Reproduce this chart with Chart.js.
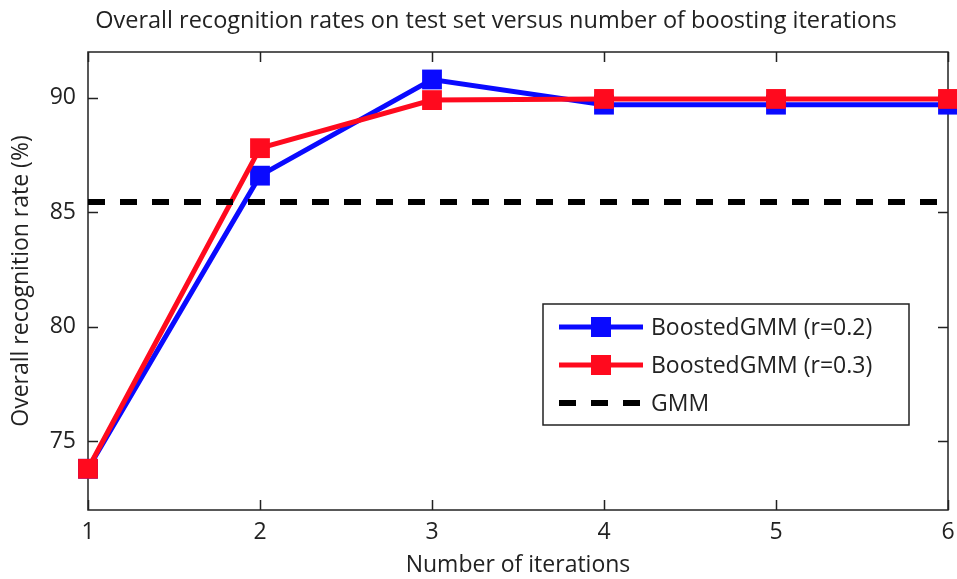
<!DOCTYPE html>
<html>
<head>
<meta charset="utf-8">
<script src="https://cdn.jsdelivr.net/npm/chart.js@4"></script>
<style>
  html, body { margin: 0; padding: 0; background: #fff; }
  #wrap { width: 957px; height: 579px; }
</style>
</head>
<body>
<div id="wrap"><canvas id="chart" width="957" height="579"></canvas></div>
<script>
// Recognition rate vs boosting iterations
var iterations = [1, 2, 3, 4, 5, 6];
var rateR02 = [73.8, 86.6, 90.8, 89.7, 89.7, 89.7];
var rateR03 = [73.8, 87.8, 89.9, 89.95, 89.95, 89.95];
var gmmRate = 85.45;
var xTicks = [1, 2, 3, 4, 5, 6];
var yTicks = [75, 80, 85, 90];
var titleText = 'Overall recognition rates on test set versus number of boosting iterations';

var FONT = '"Open Sans", "DejaVu Sans", sans-serif';
var FS = 23;
var TEXT = '#222';

function pts(xs, ys) {
  return xs.map(function (x, i) { return { x: x, y: ys[i] }; });
}

// matlab style frame with inward ticks on all sides
var framePlugin = {
  id: 'frame',
  beforeDatasetsDraw: function (chart) {
    var a = chart.chartArea, ctx = chart.ctx;
    var sx = chart.scales.x, sy = chart.scales.y;
    ctx.save();
    ctx.strokeStyle = '#222';
    ctx.lineWidth = 1.5;
    ctx.strokeRect(a.left, a.top, a.right - a.left, a.bottom - a.top);
    ctx.beginPath();
    xTicks.forEach(function (v) {
      var px = Math.round(sx.getPixelForValue(v)) + 0.5;
      ctx.moveTo(px, a.bottom); ctx.lineTo(px, a.bottom - 10);
      ctx.moveTo(px, a.top); ctx.lineTo(px, a.top + 10);
    });
    yTicks.forEach(function (v) {
      var py = Math.round(sy.getPixelForValue(v)) + 0.5;
      ctx.moveTo(a.left, py); ctx.lineTo(a.left + 10, py);
      ctx.moveTo(a.right, py); ctx.lineTo(a.right - 10, py);
    });
    ctx.stroke();
    // title sits a bit right of the canvas centre in the original
    ctx.fillStyle = TEXT;
    ctx.font = '23.5px ' + FONT;
    ctx.textAlign = 'center';
    ctx.textBaseline = 'middle';
    ctx.fillText(titleText, 496, 21);
    ctx.restore();
  }
};

// legend box inside the plot, like the original figure
var boxLegend = {
  id: 'boxLegend',
  afterDraw: function (chart) {
    var ctx = chart.ctx;
    var x0 = 543, y0 = 304, w = 366, h = 121;
    ctx.save();
    ctx.fillStyle = '#fff';
    ctx.fillRect(x0, y0, w, h);
    ctx.strokeStyle = '#222';
    ctx.lineWidth = 1.5;
    ctx.strokeRect(x0, y0, w, h);
    var rows = [327, 365, 403];
    chart.data.datasets.forEach(function (ds, i) {
      var y = rows[i];
      ctx.strokeStyle = ds.borderColor;
      ctx.lineWidth = ds.borderWidth;
      ctx.setLineDash(ds.borderDash || []);
      ctx.beginPath();
      ctx.moveTo(559, y); ctx.lineTo(643, y);
      ctx.stroke();
      ctx.setLineDash([]);
      if (ds.pointRadius) {
        ctx.fillStyle = ds.borderColor;
        ctx.fillRect(591, y - 10, 20, 20);
      }
      ctx.fillStyle = TEXT;
      ctx.font = FS + 'px ' + FONT;
      ctx.textBaseline = 'middle';
      ctx.fillText(ds.label, 651, y + 1);
    });
    ctx.restore();
  }
};

new Chart(document.getElementById('chart').getContext('2d'), {
  type: 'line',
  data: {
    datasets: [
      {
        label: 'BoostedGMM (r=0.2)',
        data: pts(iterations, rateR02),
        borderColor: '#0a0aff',
        backgroundColor: '#0a0aff',
        borderWidth: 5,
        pointStyle: 'rect',
        pointRadius: 14,
        pointBorderWidth: 0,
        clip: false,
        order: 2
      },
      {
        label: 'BoostedGMM (r=0.3)',
        data: pts(iterations, rateR03),
        borderColor: '#ff0a1e',
        backgroundColor: '#ff0a1e',
        borderWidth: 5,
        pointStyle: 'rect',
        pointRadius: 14,
        pointBorderWidth: 0,
        clip: false,
        order: 1
      },
      {
        label: 'GMM',
        data: [{ x: xTicks[0], y: gmmRate }, { x: xTicks[xTicks.length - 1], y: gmmRate }],
        borderColor: '#000',
        borderWidth: 6,
        borderDash: [17, 15],
        pointRadius: 0,
        clip: false,
        order: 0
      }
    ]
  },
  options: {
    responsive: false,
    animation: false,
    layout: { autoPadding: false, padding: { left: 0, right: 9, top: 52, bottom: 0 } },
    elements: { line: { tension: 0 } },
    plugins: {
      legend: { display: false },
      tooltip: { enabled: false },
      title: { display: false }
    },
    scales: {
      x: {
        type: 'linear',
        min: 1,
        max: 6,
        afterBuildTicks: function (s) { s.ticks = xTicks.map(function (v) { return { value: v }; }); },
        afterFit: function (s) { s.height = 69; s.paddingRight = 0; s.paddingLeft = 0; },
        grid: { display: false, drawTicks: false },
        border: { display: false },
        ticks: { color: TEXT, padding: 9, maxRotation: 0, font: { family: FONT, size: FS } },
        title: {
          display: true,
          text: 'Number of iterations',
          color: TEXT,
          font: { family: FONT, size: FS },
          padding: { top: 0, bottom: 0 }
        }
      },
      y: {
        min: 72,
        max: 92,
        afterBuildTicks: function (s) { s.ticks = yTicks.map(function (v) { return { value: v }; }); },
        afterFit: function (s) { s.width = 88; s.paddingTop = 0; s.paddingBottom = 0; },
        grid: { display: false, drawTicks: false },
        border: { display: false },
        ticks: { color: TEXT, padding: 12, font: { family: FONT, size: FS } },
        title: {
          display: true,
          text: 'Overall recognition rate (%)',
          color: TEXT,
          font: { family: FONT, size: FS },
          padding: { top: 8, bottom: 0 }
        }
      }
    }
  },
  plugins: [framePlugin, boxLegend]
});
</script>
</body>
</html>
